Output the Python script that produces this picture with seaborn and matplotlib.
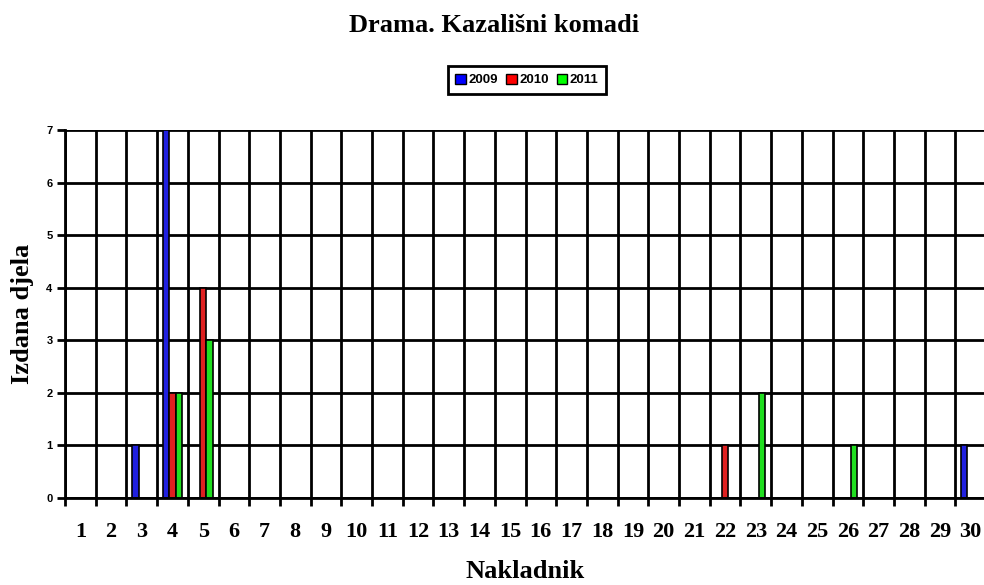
import numpy as np
import pandas as pd
import seaborn as sns
import matplotlib.pyplot as plt
from matplotlib.patches import Patch

# publishers 1..30, titles per year
nakladnik = list(range(1, 31))
years = ["2009", "2010", "2011"]
v2009 = [0, 0, 1, 7, 0, 0, 0, 0, 0, 0, 0, 0, 0, 0, 0, 0, 0, 0, 0, 0, 0, 0, 0, 0, 0, 0, 0, 0, 0, 1]
v2010 = [0, 0, 0, 2, 4, 0, 0, 0, 0, 0, 0, 0, 0, 0, 0, 0, 0, 0, 0, 0, 0, 1, 0, 0, 0, 0, 0, 0, 0, 0]
v2011 = [0, 0, 0, 2, 3, 0, 0, 0, 0, 0, 0, 0, 0, 0, 0, 0, 0, 0, 0, 0, 0, 0, 2, 0, 0, 1, 0, 0, 0, 0]
colors = ["#0000FF", "#FF0000", "#00FF00"]

df = pd.DataFrame({
    "Nakladnik": [str(n) for n in nakladnik] * 3,
    "Godina": [y for y in years for _ in nakladnik],
    "Broj": v2009 + v2010 + v2011,
})

sns.set_style("white")
plt.rcParams["font.family"] = ["Liberation Serif", "DejaVu Serif"]
plt.rcParams["text.color"] = "black"
plt.rcParams["axes.labelcolor"] = "black"
plt.rcParams["xtick.color"] = "black"
plt.rcParams["ytick.color"] = "black"

fig = plt.figure(figsize=(9.84, 5.85), dpi=100)
ax = fig.add_axes([65 / 984, 1 - 498 / 585, 921 / 984, 368 / 585])

sns.barplot(data=df, x="Nakladnik", y="Broj", hue="Godina", palette=colors,
            width=0.62, edgecolor="black", linewidth=1.2, ax=ax, legend=False,
            zorder=3)

ax.set_xlim(-0.5, 29.5)
ax.set_ylim(0, 7)
ax.set_yticks(range(0, 8))
ax.set_xticks(np.arange(-0.5, 30, 1), minor=True)
ax.grid(True, which="minor", axis="x", color="black", linewidth=2, zorder=0)
ax.grid(True, which="major", axis="y", color="black", linewidth=2, zorder=0)
ax.set_axisbelow(True)
for s in ["top", "right"]:
    ax.spines[s].set_visible(False)
for s in ["left", "bottom"]:
    ax.spines[s].set_color("black")
    ax.spines[s].set_linewidth(2)
    ax.spines[s].set_zorder(4)

ax.tick_params(axis="x", which="major", length=0, pad=17, labelsize=16)
ax.tick_params(axis="x", which="minor", length=6, width=2, color="black", direction="out", bottom=True)
ax.tick_params(axis="y", length=6, width=2, color="black", direction="out", left=True, pad=3)
for lab in ax.get_xticklabels():
    lab.set_fontweight("bold")
for lab in ax.get_yticklabels():
    lab.set_fontfamily("Liberation Sans")
    lab.set_fontweight("bold")
    lab.set_fontsize(8)

ax.set_xlabel("Nakladnik", fontsize=19, fontweight="bold")
ax.set_ylabel("Izdana djela", fontsize=19, fontweight="bold")
ax.xaxis.set_label_coords(0.5, -74 / 368)
ax.yaxis.set_label_coords(-42 / 921, 0.5)
ax.xaxis.label.set_va("center")
ax.yaxis.label.set_va("center")

fig.text(494 / 984, 1 - 26 / 585, "Drama. Kazališni komadi", ha="center", va="center",
         fontsize=19, fontweight="bold")

handles = [Patch(facecolor=c, edgecolor="black", linewidth=1) for c in colors]
leg = fig.legend(handles, years, loc="center", bbox_to_anchor=(527 / 984, 1 - 80 / 585),
                 ncol=3, frameon=True, fancybox=False, edgecolor="black", framealpha=1,
                 prop={"family": "Liberation Sans", "weight": "bold", "size": 9.5},
                 handlelength=0.8, handleheight=0.8, handletextpad=0.2,
                 columnspacing=0.6, borderpad=0.55)
leg.get_frame().set_linewidth(2)

fig.savefig("out.png", dpi=100)
